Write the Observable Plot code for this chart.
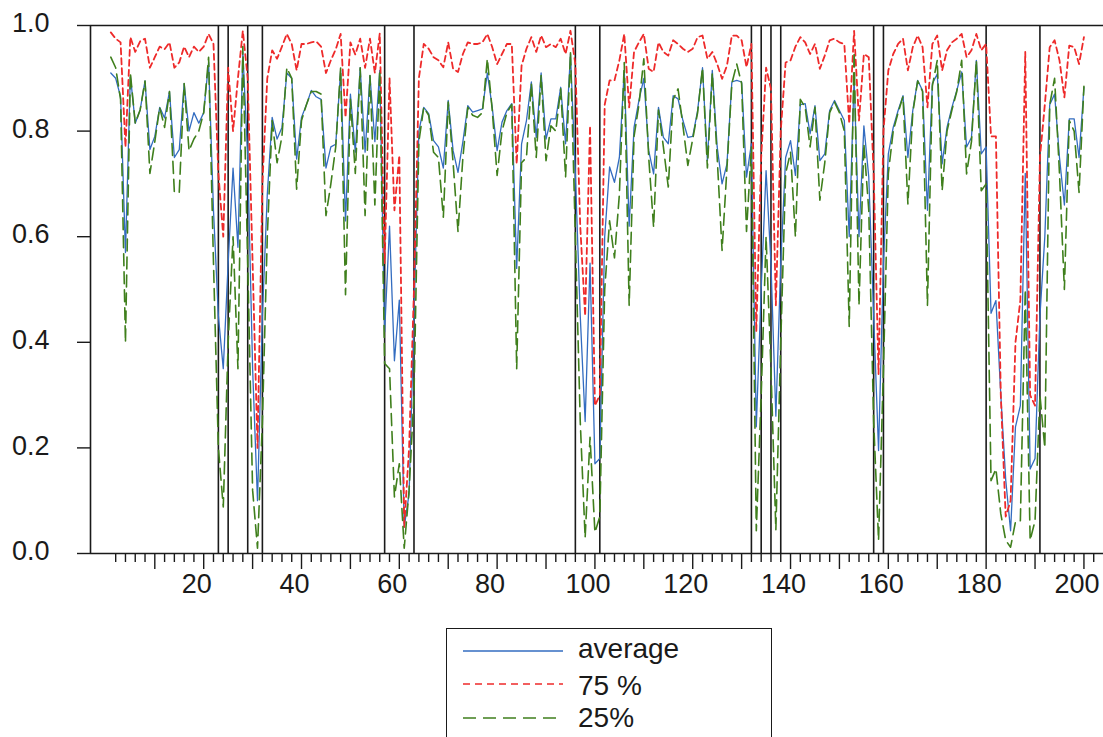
<!DOCTYPE html>
<html><head><meta charset="utf-8">
<script src="https://cdn.jsdelivr.net/npm/d3@7"></script>
<script src="https://cdn.jsdelivr.net/npm/@observablehq/plot@0.6"></script>
<style>
html,body{margin:0;padding:0;background:#fff;overflow:hidden;width:1103px;height:737px}
#chart svg{display:block}
.legend{position:absolute;left:446px;top:628px;width:326px;height:140px;border:1.6px solid #1a1a1a;box-sizing:border-box;background:#fff;font-family:"Liberation Sans",Arial,sans-serif;font-size:28px;color:#1a1a1a}
.sw{position:absolute;left:16px;width:100px;height:12px}
.lt{position:absolute;left:131px;height:30px;line-height:30px;white-space:nowrap}
</style></head>
<body>
<div id="chart"></div>
<div class="legend" id="legend"></div>
<script>
// ---- data ----
const seriesNames = ["average", "75 %", "25%"];
const seriesColors = ["#336cc0", "#ee2a2a", "#3f7f1c"];
const seriesDash = [null, "6,4", "12,6"];
const breaks = [23, 25, 29, 32, 57, 63, 96, 101, 132, 134, 136, 138, 157, 159, 180, 191];
const yTicks = [0, 0.2, 0.4, 0.6, 0.8, 1.0];
const xLabels = [20, 40, 60, 80, 100, 120, 140, 160, 180, 200];

const avg = [
0.91,0.90,0.865,0.57,0.905,0.815,0.84,0.895,0.765,0.79,
0.845,0.825,0.875,0.75,0.765,0.89,0.80,0.835,0.815,0.835,
0.93,0.65,0.45,0.35,0.55,0.73,0.58,0.95,0.75,0.35,
0.10,0.45,0.68,0.826,0.785,0.807,0.91,0.90,0.747,0.826,
0.85,0.877,0.865,0.86,0.73,0.77,0.775,0.915,0.63,0.87,
0.76,0.92,0.76,0.905,0.78,0.915,0.42,0.62,0.365,0.48,
0.05,0.113,0.45,0.80,0.845,0.833,0.782,0.77,0.73,0.858,
0.763,0.722,0.78,0.848,0.836,0.839,0.842,0.91,0.845,0.763,
0.817,0.839,0.852,0.54,0.776,0.82,0.893,0.788,0.91,0.785,
0.823,0.823,0.883,0.776,0.946,0.72,0.45,0.25,0.55,0.17,
0.18,0.6,0.732,0.703,0.75,0.915,0.62,0.807,0.858,0.90,
0.763,0.719,0.845,0.788,0.776,0.867,0.861,0.82,0.788,0.79,
0.839,0.92,0.744,0.915,0.77,0.70,0.738,0.893,0.896,0.893,
0.713,0.776,0.24,0.5,0.725,0.55,0.26,0.55,0.75,0.782,
0.716,0.85,0.852,0.795,0.848,0.744,0.757,0.839,0.858,0.839,
0.82,0.6,0.9,0.6,0.81,0.713,0.45,0.195,0.55,0.757,
0.807,0.839,0.867,0.75,0.839,0.896,0.877,0.65,0.89,0.908,
0.738,0.807,0.845,0.877,0.912,0.77,0.788,0.934,0.757,0.77,
0.455,0.479,0.3,0.14,0.043,0.24,0.28,0.72,0.16,0.18,
0.45,0.6,0.85,0.87,0.75,0.66,0.823,0.823,0.75,0.883];

const p75 = [
0.987,0.975,0.968,0.77,0.978,0.95,0.97,0.975,0.92,0.94,
0.96,0.955,0.968,0.92,0.93,0.96,0.94,0.96,0.95,0.96,
0.984,0.965,0.72,0.6,0.92,0.8,0.9,0.99,0.9,0.55,
0.2,0.7,0.9,0.953,0.937,0.96,0.984,0.965,0.915,0.965,
0.965,0.968,0.97,0.96,0.91,0.934,0.955,0.984,0.826,0.968,
0.945,0.975,0.92,0.975,0.91,0.985,0.55,0.90,0.65,0.754,
0.05,0.2,0.5,0.9,0.965,0.956,0.94,0.934,0.921,0.968,
0.918,0.912,0.946,0.968,0.965,0.965,0.968,0.984,0.959,0.927,
0.946,0.965,0.965,0.738,0.924,0.956,0.978,0.95,0.981,0.959,
0.965,0.959,0.975,0.946,0.99,0.927,0.62,0.45,0.81,0.28,
0.3,0.85,0.896,0.896,0.934,0.984,0.845,0.95,0.968,0.984,
0.918,0.912,0.968,0.95,0.943,0.972,0.965,0.956,0.95,0.956,
0.978,0.981,0.937,0.95,0.927,0.899,0.924,0.981,0.981,0.972,
0.921,0.965,0.42,0.75,0.92,0.88,0.47,0.8,0.93,0.934,
0.96,0.978,0.968,0.946,0.965,0.918,0.943,0.972,0.975,0.968,
0.965,0.814,0.99,0.82,0.946,0.94,0.72,0.34,0.8,0.915,
0.946,0.965,0.975,0.915,0.959,0.981,0.959,0.845,0.965,0.981,
0.915,0.953,0.968,0.975,0.984,0.94,0.953,0.984,0.953,0.965,
0.79,0.79,0.3,0.07,0.1,0.4,0.48,0.95,0.3,0.28,
0.75,0.85,0.959,0.972,0.934,0.864,0.962,0.959,0.927,0.978];

const p25 = [
0.94,0.92,0.86,0.40,0.91,0.815,0.84,0.895,0.72,0.78,
0.845,0.807,0.875,0.684,0.684,0.89,0.763,0.785,0.80,0.835,
0.94,0.55,0.2,0.088,0.4,0.6,0.35,0.96,0.55,0.12,
0.01,0.25,0.6,0.82,0.74,0.79,0.92,0.9,0.69,0.82,
0.85,0.875,0.875,0.87,0.64,0.7,0.77,0.92,0.49,0.86,
0.72,0.92,0.64,0.905,0.66,0.915,0.36,0.35,0.107,0.17,
0.01,0.12,0.3,0.78,0.845,0.83,0.76,0.75,0.637,0.855,
0.74,0.61,0.75,0.845,0.83,0.826,0.835,0.937,0.84,0.716,
0.80,0.835,0.85,0.35,0.74,0.75,0.89,0.75,0.905,0.744,
0.81,0.80,0.88,0.713,0.95,0.6,0.25,0.03,0.22,0.04,
0.07,0.5,0.63,0.56,0.68,0.93,0.47,0.79,0.85,0.937,
0.75,0.618,0.84,0.77,0.694,0.86,0.88,0.81,0.735,0.785,
0.835,0.92,0.73,0.91,0.75,0.574,0.73,0.89,0.927,0.89,
0.61,0.77,0.043,0.3,0.6,0.35,0.045,0.4,0.72,0.76,
0.6,0.86,0.845,0.77,0.845,0.669,0.74,0.835,0.855,0.835,
0.8,0.43,0.95,0.47,0.776,0.65,0.25,0.025,0.35,0.72,
0.8,0.835,0.865,0.662,0.835,0.895,0.875,0.47,0.885,0.934,
0.687,0.8,0.84,0.875,0.934,0.719,0.78,0.934,0.687,0.7,
0.138,0.16,0.075,0.025,0.012,0.06,0.062,0.5,0.025,0.062,
0.3,0.2,0.85,0.9,0.72,0.5,0.82,0.80,0.684,0.885];

// ---- chart ----
const t = d3.range(1, avg.length + 1);
const xDomain = [-3.15, 204];
const minorTicks = d3.range(2, 204, 2).filter(d => d % 10 !== 0);
const majorTicks = d3.range(10, 204, 10);
const series = [avg, p75, p25];
const ink = "#1a1a1a";
const font = "'Liberation Sans', Arial, sans-serif";

const lineMarks = series.map((vals, k) => Plot.line(t, {
  x: d => d, y: (d, i) => vals[i],
  stroke: seriesColors[k], strokeWidth: k === 0 ? 1.3 : (k === 1 ? 1.8 : 1.6),
  strokeDasharray: seriesDash[k], strokeLinejoin: "round"
}));

const chart = Plot.plot({
  width: 1103, height: 603,
  marginLeft: 90, marginRight: 0, marginTop: 25, marginBottom: 50,
  x: {domain: xDomain},
  y: {domain: [0, 1]},
  style: {fontFamily: font, color: ink, background: "white", overflow: "visible"},
  marks: [
    Plot.ruleX(breaks, {stroke: ink, strokeWidth: 1.6}),
    ...lineMarks,
    Plot.ruleY([0, 1], {stroke: ink, strokeWidth: 1.6}),
    Plot.ruleX([xDomain[0]], {stroke: ink, strokeWidth: 1.6}),
    Plot.axisY({ticks: yTicks, tickSize: 13, text: null, label: null, stroke: ink, strokeWidth: 1.4}),
    Plot.axisY({ticks: yTicks, tickSize: 0, tickPadding: 41, dy: -2, tickFormat: d3.format(".1f"), label: null, fontSize: 27}),
    Plot.axisX({ticks: minorTicks, tickSize: 9, text: null, label: null, stroke: ink, strokeWidth: 1.4}),
    Plot.axisX({ticks: majorTicks, tickSize: 16, text: null, label: null, stroke: ink, strokeWidth: 1.4}),
    Plot.axisX({ticks: xLabels, tickSize: 0, tickPadding: 20, dx: -7, tickFormat: d => String(d), label: null, fontSize: 27})
  ]
});
document.getElementById("chart").appendChild(chart);

// ---- legend ----
const leg = document.getElementById("legend");
const rowLine = [22, 55, 89];
const rowText = [20, 57, 89];
seriesNames.forEach((name, k) => {
  const sw = document.createElementNS("http://www.w3.org/2000/svg", "svg");
  sw.setAttribute("class", "sw");
  sw.style.top = (rowLine[k] - 6) + "px";
  const ln = document.createElementNS("http://www.w3.org/2000/svg", "line");
  ln.setAttribute("x1", 0); ln.setAttribute("x2", 100);
  ln.setAttribute("y1", 6); ln.setAttribute("y2", 6);
  ln.setAttribute("stroke", seriesColors[k]);
  ln.setAttribute("stroke-width", k === 0 ? 1.3 : 1.6);
  if (seriesDash[k]) ln.setAttribute("stroke-dasharray", k === 1 ? "7,5" : "13,7");
  sw.appendChild(ln);
  leg.appendChild(sw);
  const tx = document.createElement("div");
  tx.className = "lt";
  tx.style.top = (rowText[k] - 15) + "px";
  tx.textContent = name;
  leg.appendChild(tx);
});
</script>
</body></html>
